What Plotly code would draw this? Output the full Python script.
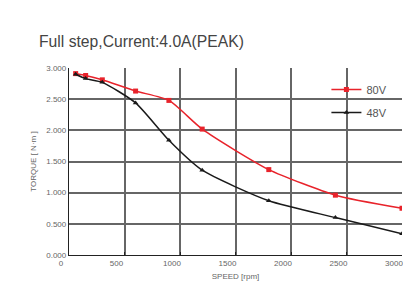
import plotly.graph_objects as go

speed = [60, 150, 300, 600, 900, 1200, 1800, 2400, 3000]
torque_80v = [2.91, 2.88, 2.81, 2.63, 2.48, 2.02, 1.37, 0.96, 0.75]
torque_48v = [2.90, 2.83, 2.77, 2.44, 1.84, 1.36, 0.87, 0.60, 0.34]
x_ticks = [0, 500, 1000, 1500, 2000, 2500, 3000]
y_ticks = [0, 0.5, 1.0, 1.5, 2.0, 2.5, 3.0]
y_tick_labels = ["0.000", "0.500", "1.000", "1.500", "2.000", "2.500", "3.000"]

fig = go.Figure()
fig.add_trace(go.Scatter(
    x=speed, y=torque_80v, name="80V", mode="lines+markers", legendgroup="a",
    line=dict(color="#e8232b", width=1.5, shape="spline", smoothing=0.6),
    marker=dict(symbol="square", size=5, color="#e8232b"),
))
fig.add_trace(go.Scatter(
    x=speed, y=torque_48v, name="48V", mode="lines+markers", legendgroup="b",
    line=dict(color="#1a1a1a", width=1.5, shape="spline", smoothing=0.6),
    marker=dict(symbol="triangle-up", size=5, color="#1a1a1a"),
))

# page has an 8px body margin, so figure coordinates are shifted by -8
font_family = "Liberation Sans, Arial, sans-serif"
fig.update_layout(
    width=411, height=288,
    margin=dict(l=61, r=17, t=60, b=41, autoexpand=False),
    paper_bgcolor="white", plot_bgcolor="white",
    font=dict(family=font_family, color="#555555", size=8),
    title=dict(text="Full step,Current:4.0A(PEAK)", x=31/411, xanchor="left",
               y=1-34/288, yanchor="middle",
               font=dict(size=15.7, color="#444444", family=font_family)),
    showlegend=True,
    legend=dict(x=0.773, y=0.963, xanchor="left", yanchor="top",
                bgcolor="rgba(0,0,0,0)", font=dict(size=11, color="#555555"),
                itemwidth=30, tracegroupgap=4),
)
fig.update_xaxes(
    range=[0, 3000], tickvals=x_ticks, ticktext=[str(v) for v in x_ticks],
    showgrid=True, gridcolor="#666666", gridwidth=1.6,
    showline=True, linecolor="#222222", linewidth=1.3,
    ticks="inside", ticklen=3, tickcolor="#222222", ticklabelshift=-8,
    zeroline=False, tickfont=dict(size=8, color="#666666"), automargin=False,
    title=dict(text="SPEED [rpm]", font=dict(size=8, color="#666666"), standoff=6),
)
fig.update_yaxes(
    range=[0, 3.0], tickvals=y_ticks, ticktext=y_tick_labels,
    showgrid=True, gridcolor="#666666", gridwidth=1.6,
    showline=True, linecolor="#222222", linewidth=1.3,
    zeroline=False, tickfont=dict(size=8, color="#666666"), automargin=False,
    title=dict(text="TORQUE [ N·m ]", font=dict(size=8, color="#666666"), standoff=8),
)

fig.write_html("out.html")
